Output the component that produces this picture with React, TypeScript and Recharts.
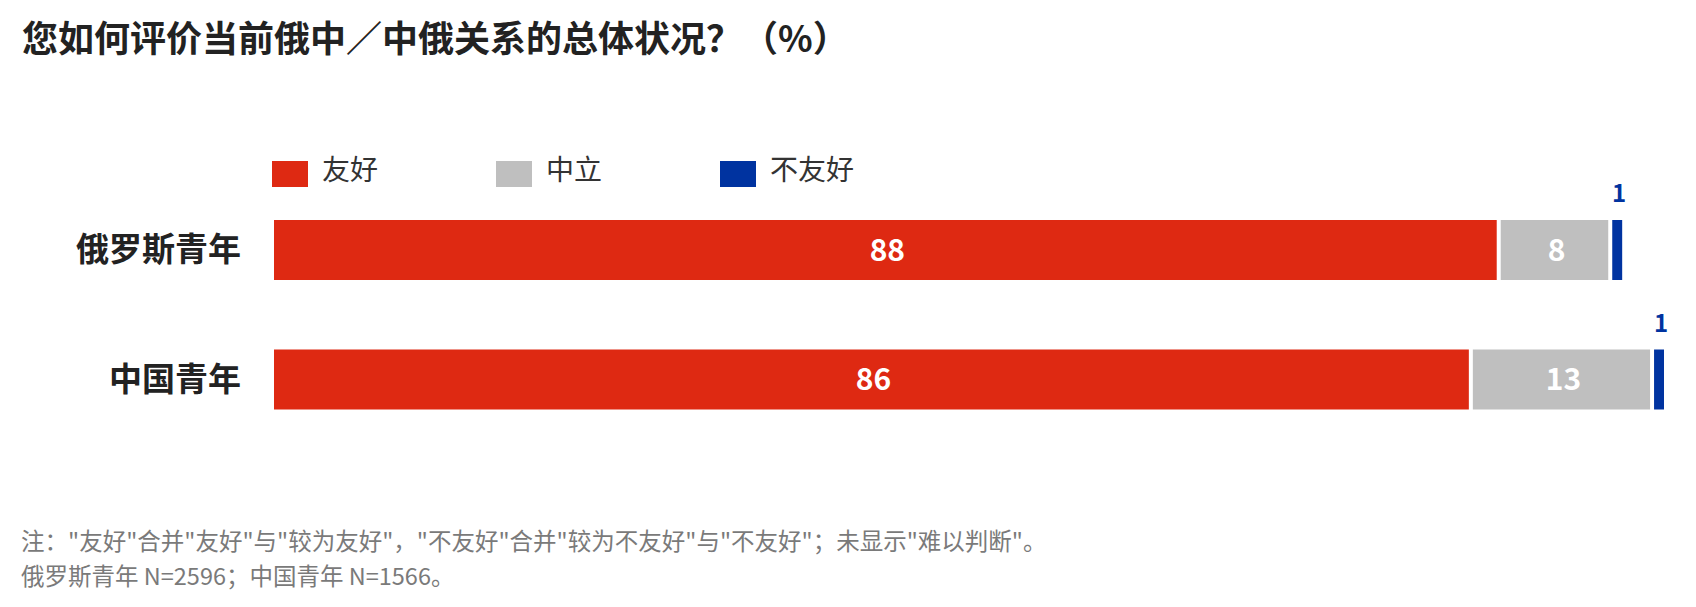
import { BarChart, Bar, XAxis, YAxis, LabelList } from "recharts";

const groups = ["俄罗斯青年", "中国青年"];
const friendly = [88, 86];
const neutral = [8, 13];
const unfriendly = [1, 1];

const seriesKeys = ["friendly", "neutral", "unfriendly"];
const seriesNames = ["友好", "中立", "不友好"];
const seriesColors = ["#de2912", "#bfbfbf", "#0033a0"];

const title = "您如何评价当前俄中／中俄关系的总体状况？（%）";
const notes = [
  '注："友好"合并"友好"与"较为友好"，"不友好"合并"较为不友好"与"不友好"；未显示"难以判断"。',
  "俄罗斯青年 N=2596；中国青年 N=1566。",
];

const data = groups.map((group, i) => ({
  group,
  friendly: friendly[i],
  neutral: neutral[i],
  unfriendly: unfriendly[i],
}));

// leaves a small white gap after every segment
function GapBar(props: any) {
  const { x, y, width, height, fill } = props;
  return (
    <rect x={x} y={y} width={Math.max(width - 4, 0)} height={height} fill={fill} />
  );
}

export default function App() {
  return (
    <div
      style={{
        position: "absolute",
        left: 0,
        top: 0,
        width: 1696,
        height: 607,
        background: "#fff",
        fontFamily: '"Noto Sans CJK SC", "Noto Sans", sans-serif',
        overflow: "hidden",
      }}
    >
      <div
        style={{
          position: "absolute",
          left: 22,
          top: 14,
          fontSize: 36,
          fontWeight: 700,
          lineHeight: "44px",
          color: "#222",
          whiteSpace: "nowrap",
        }}
      >
        {title}
      </div>

      <div style={{ position: "absolute", left: 272, top: 150, display: "flex" }}>
        {seriesNames.map((name, i) => (
          <div key={name} style={{ width: 224, display: "flex", alignItems: "flex-start" }}>
            <span
              style={{
                display: "inline-block",
                width: 36,
                height: 26,
                marginTop: 11,
                background: seriesColors[i],
              }}
            />
            <span
              style={{
                marginLeft: 14,
                fontSize: 28,
                lineHeight: "36px",
                color: "#333",
              }}
            >
              {name}
            </span>
          </div>
        ))}
      </div>

      <div style={{ position: "absolute", left: 0, top: 0 }}>
        <BarChart
          width={1696}
          height={607}
          data={data}
          layout="vertical"
          margin={{ top: 185, right: 28, bottom: 163, left: 14 }}
        >
          <XAxis type="number" domain={[0, 100]} hide />
          <YAxis
            type="category"
            dataKey="group"
            width={260}
            axisLine={false}
            tickLine={false}
            tickSize={0}
            tickMargin={33}
            tick={{ fontSize: 33, fontWeight: 700, fill: "#222" }}
          />
          {seriesKeys.map((key, i) => (
            <Bar
              key={key}
              dataKey={key}
              name={seriesNames[i]}
              stackId="a"
              fill={seriesColors[i]}
              barSize={60}
              shape={<GapBar />}
              isAnimationActive={false}
            >
              {key === "unfriendly" ? (
                <LabelList
                  dataKey={key}
                  position="top"
                  offset={18}
                  fill={seriesColors[i]}
                  fontSize={24}
                  fontWeight={700}
                />
              ) : (
                <LabelList
                  dataKey={key}
                  position="center"
                  fill="#fff"
                  fontSize={30}
                  fontWeight={700}
                />
              )}
            </Bar>
          ))}
        </BarChart>
      </div>

      <div
        style={{
          position: "absolute",
          left: 21,
          top: 523,
          fontSize: 23.5,
          lineHeight: "35px",
          color: "#7a7a7a",
          whiteSpace: "nowrap",
        }}
      >
        {notes.map((line) => (
          <div key={line}>{line}</div>
        ))}
      </div>
    </div>
  );
}
